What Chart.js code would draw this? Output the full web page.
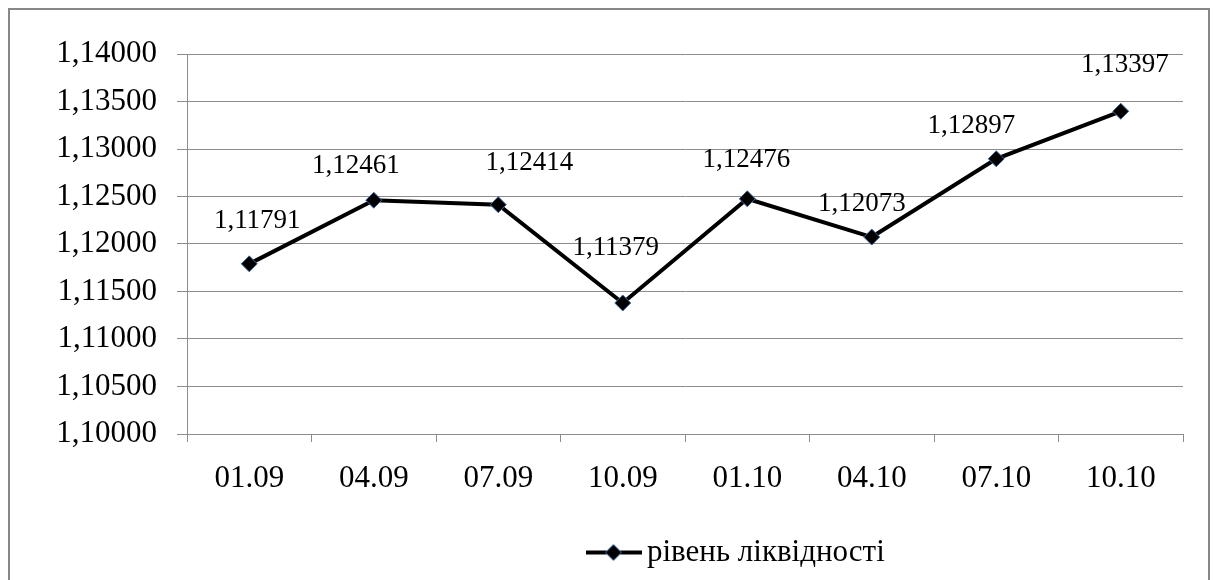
<!DOCTYPE html>
<html>
<head>
<meta charset="utf-8">
<script src="https://cdn.jsdelivr.net/npm/chart.js@4.4.1/dist/chart.umd.min.js"></script>
<style>
  html, body { margin: 0; padding: 0; background: #fff; overflow: hidden; }
  #wrap { width: 1214px; height: 580px; position: relative; }
</style>
</head>
<body>
<div id="wrap"><canvas id="c" width="1214" height="580"></canvas></div>
<script>
// Dates of the observations
const dates = ['01.09', '04.09', '07.09', '10.09', '01.10', '04.10', '07.10', '10.10'];
// Liquidity level on each date
const liquidity = [1.11791, 1.12461, 1.12414, 1.11379, 1.12476, 1.12073, 1.12897, 1.13397];
const seriesName = 'рівень ліквідності';
// Value axis range and step
const yMin = 1.10;
const yMax = 1.14;
const yStep = 0.005;

const SERIF = '"Liberation Serif", "Times New Roman", serif';
const GRID = '#8c8c8c';
const fmt = v => v.toFixed(5).replace('.', ',');

// Legend swatch: a short black line with a diamond marker on it
function makeSwatch() {
  const c = document.createElement('canvas');
  c.width = 56; c.height = 20;
  const g = c.getContext('2d');
  g.strokeStyle = '#000'; g.lineWidth = 4;
  g.beginPath(); g.moveTo(0, 10); g.lineTo(56, 10); g.stroke();
  g.beginPath();
  g.moveTo(28, 2); g.lineTo(36, 10); g.lineTo(28, 18); g.lineTo(20, 10); g.closePath();
  g.fillStyle = '#000'; g.fill();
  g.lineWidth = 1; g.strokeStyle = '#3d6aa3'; g.stroke();
  return c;
}

// White background and the outer frame
const frame = {
  id: 'frame',
  beforeDraw(chart) {
    const ctx = chart.ctx;
    ctx.save();
    ctx.fillStyle = '#fff';
    ctx.fillRect(0, 0, chart.width, chart.height);
    ctx.strokeStyle = '#878787';
    ctx.lineWidth = 2;
    ctx.strokeRect(9, 9, 1200, 620);
    ctx.restore();
  }
};

// Legend placed under the axis, right of centre
const legendPlace = {
  id: 'legendPlace',
  afterLayout(chart, args, opts) {
    const lg = chart.legend;
    if (!lg) return;
    const w = lg.width, h = lg.height;
    lg.left = opts.left; lg.right = lg.left + w;
    lg.top = opts.top; lg.bottom = lg.top + h;
  }
};

// Value captions above each marker
const pointValues = {
  id: 'pointValues',
  afterDatasetsDraw(chart, args, opts) {
    const meta = chart.getDatasetMeta(0);
    const values = chart.data.datasets[0].data;
    const ctx = chart.ctx;
    ctx.save();
    ctx.font = opts.font;
    ctx.fillStyle = '#000';
    ctx.textAlign = 'center';
    ctx.textBaseline = 'middle';
    meta.data.forEach((pt, i) => {
      const s = opts.shift[i] || [0, -40];
      ctx.fillText(fmt(values[i]), pt.x + s[0], pt.y + s[1]);
    });
    ctx.restore();
  }
};

new Chart(document.getElementById('c'), {
  type: 'line',
  data: {
    labels: dates,
    datasets: [{
      label: seriesName,
      data: liquidity,
      borderColor: '#000',
      borderWidth: 4,
      tension: 0,
      pointStyle: 'rectRot',
      pointRadius: 8,
      pointBackgroundColor: '#000',
      pointBorderColor: '#3d6aa3',
      pointBorderWidth: 1
    }]
  },
  options: {
    responsive: false,
    devicePixelRatio: 1,
    animation: false,
    events: [],
    layout: { padding: { top: 54, right: 31, left: 0, bottom: 0 } },
    scales: {
      x: {
        offset: true,
        grid: { display: true, offset: true, drawOnChartArea: false, drawTicks: true, tickLength: 8, color: GRID, lineWidth: 1 },
        border: { display: true, color: GRID, width: 1 },
        ticks: { color: '#000', font: { family: SERIF, size: 31 }, padding: 18, maxRotation: 0, autoSkip: false },
        afterFit(s) {
          const lgH = s.chart.legend ? s.chart.legend.height : 0;
          s.height = s.chart.height - 434 - lgH;
        }
      },
      y: {
        min: yMin,
        max: yMax,
        grid: { color: GRID, lineWidth: 1, drawTicks: true, tickLength: 10 },
        border: { display: true, color: GRID, width: 1 },
        ticks: {
          stepSize: yStep,
          color: '#000',
          font: { family: SERIF, size: 31 },
          padding: 20,
          callback: v => fmt(v)
        },
        afterFit(s) { s.width = 187; }
      }
    },
    plugins: {
      tooltip: { enabled: false },
      legend: {
        display: true,
        position: 'bottom',
        align: 'start',
        labels: {
          usePointStyle: true,
          pointStyle: makeSwatch(),
          pointStyleWidth: 36,
          padding: 10,
          color: '#000',
          font: { family: SERIF, size: 31 }
        }
      },
      legendPlace: { left: 585.5, top: 527 },
      pointValues: {
        font: '27px ' + SERIF,
        shift: [[8, -43], [-18, -34], [31, -42], [-7, -55], [-1, -39], [-10, -33], [-25, -33], [4, -46]]
      }
    }
  },
  plugins: [frame, legendPlace, pointValues]
});
</script>
</body>
</html>
